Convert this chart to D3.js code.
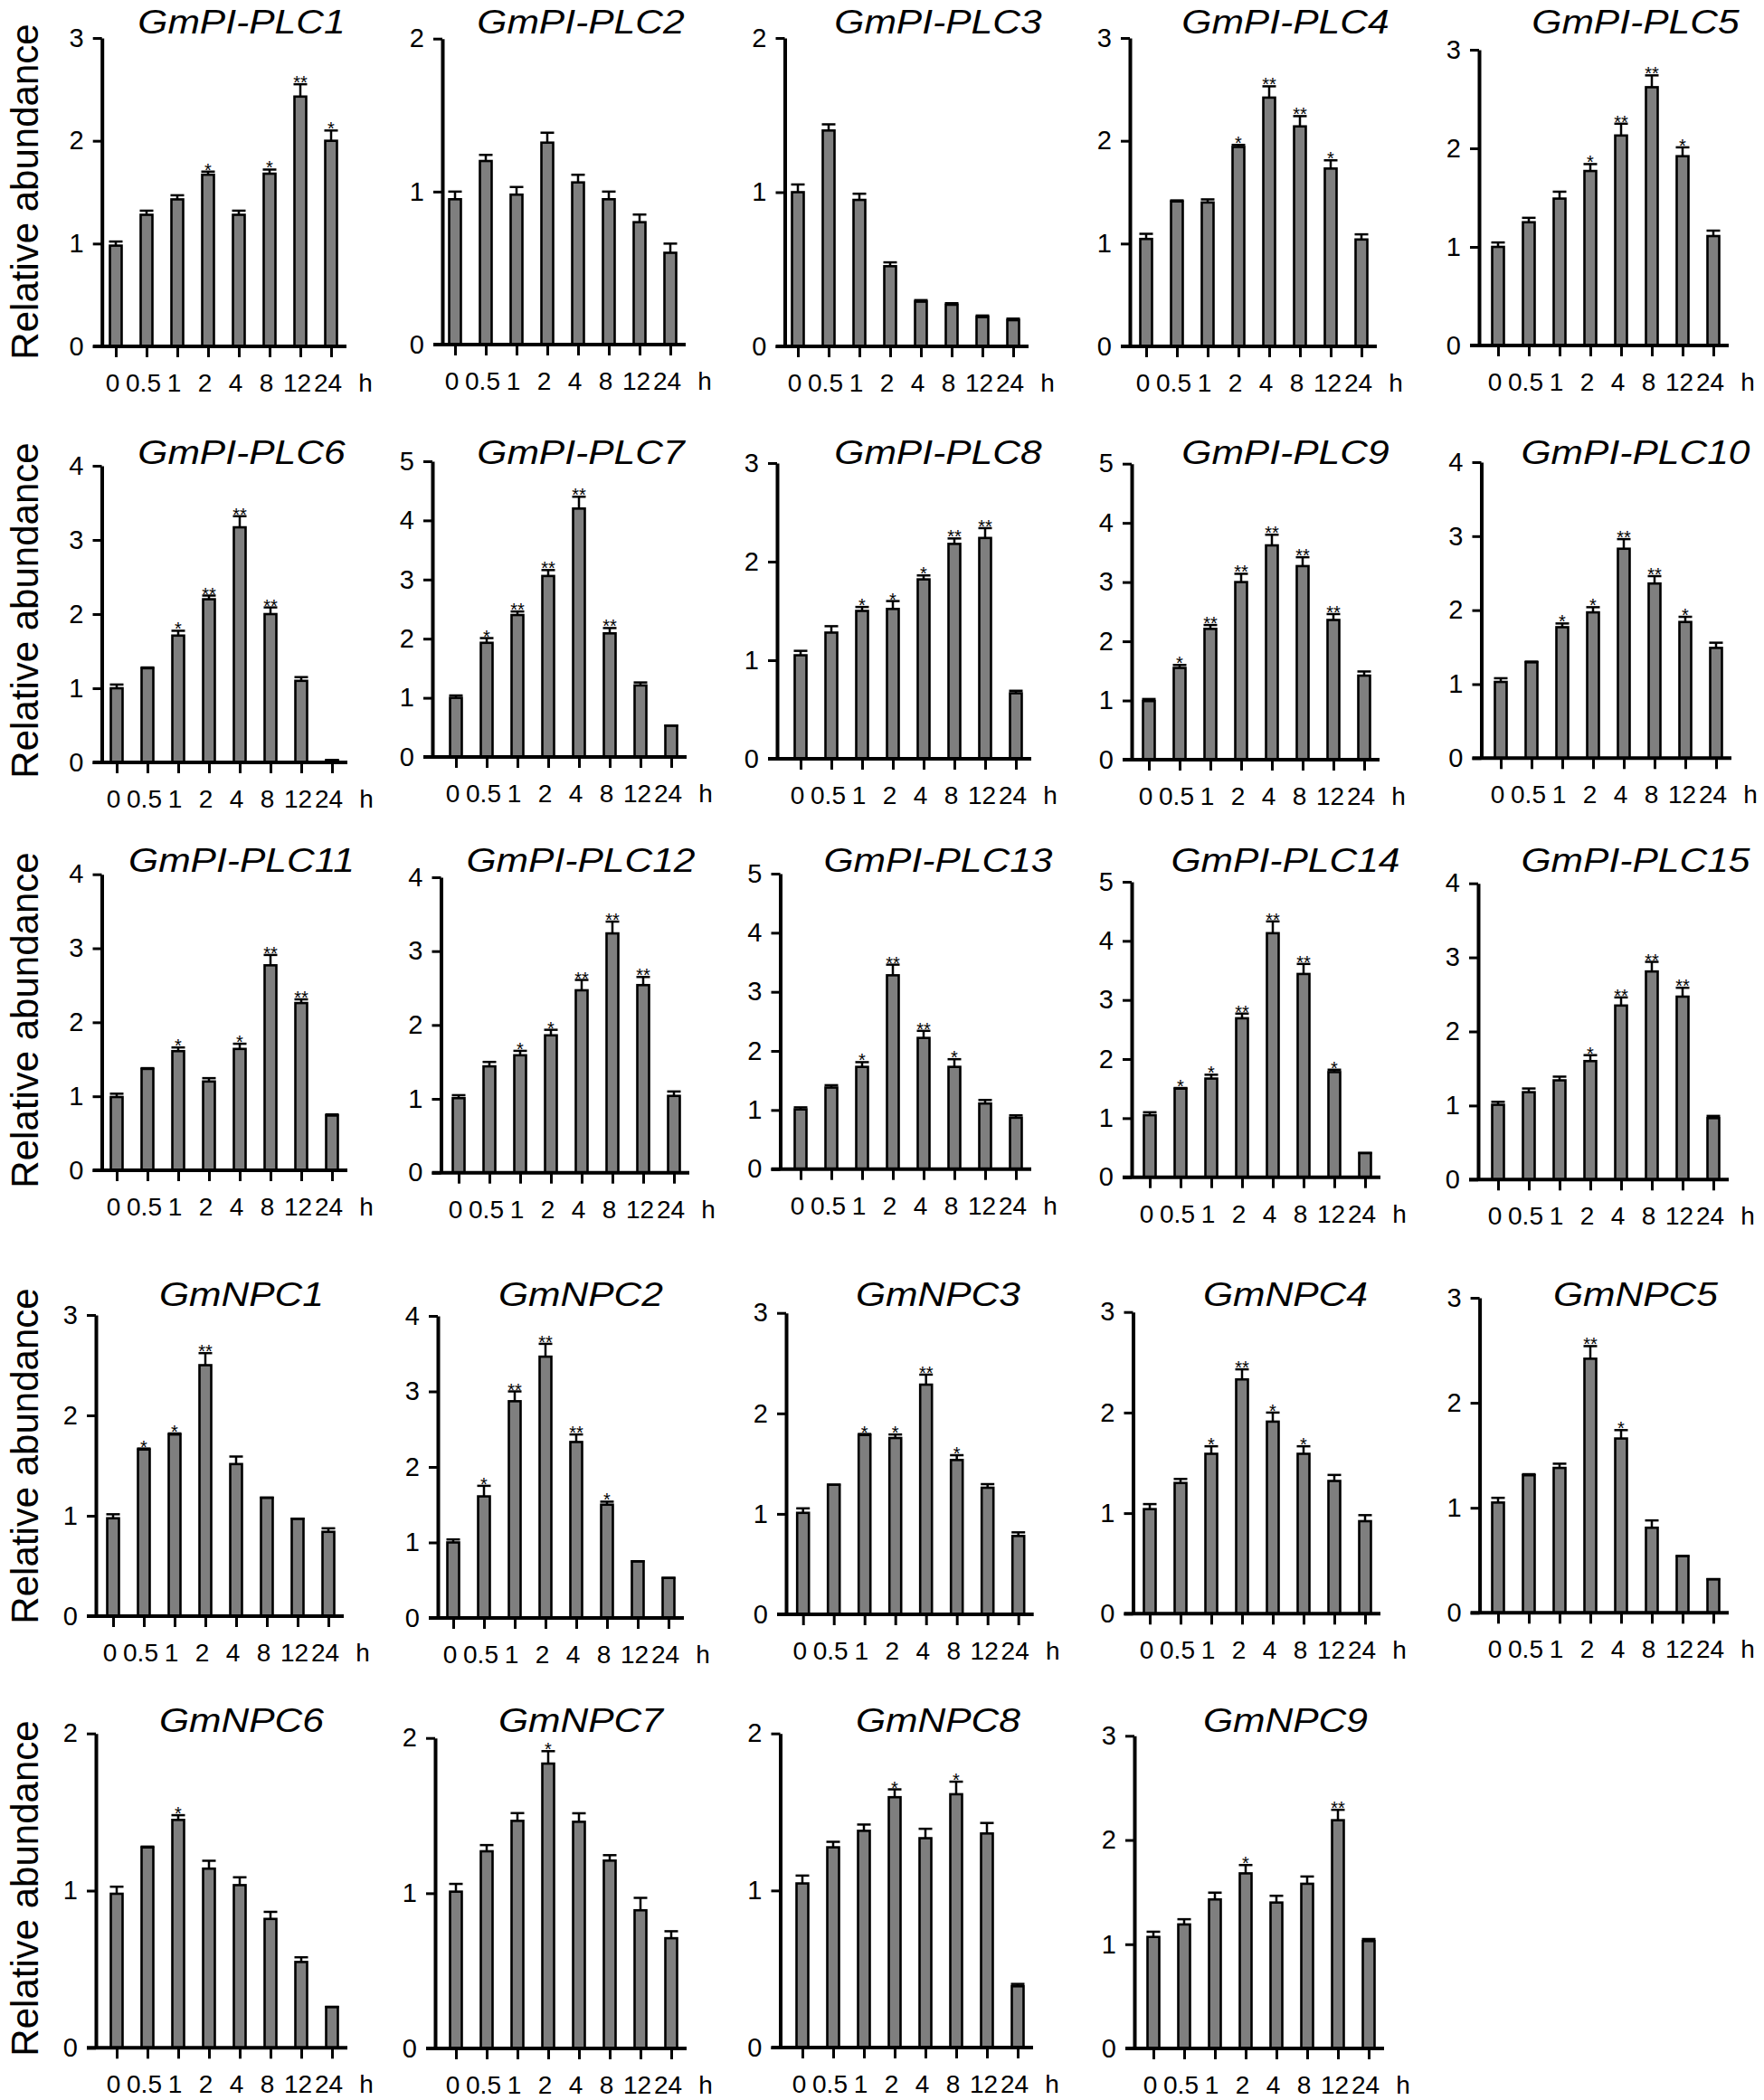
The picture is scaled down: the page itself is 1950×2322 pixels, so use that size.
<!DOCTYPE html>
<html lang="en">
	<head>
		<meta charset="utf-8">
		<title>relative abundance</title>
		<script type="text/javascript" src="https://cdn.jsdelivr.net/npm/d3@7"></script>
		<style type="text/css">
			body { margin: 0; background: #fff; }
			text { font-family: "Liberation Sans", Arial, sans-serif; fill: #000; }
		</style>
	</head>
	<body>
		<script type="text/javascript">

			//Data
			var genes = ["GmPI-PLC1","GmPI-PLC2","GmPI-PLC3","GmPI-PLC4","GmPI-PLC5",
			             "GmPI-PLC6","GmPI-PLC7","GmPI-PLC8","GmPI-PLC9","GmPI-PLC10",
			             "GmPI-PLC11","GmPI-PLC12","GmPI-PLC13","GmPI-PLC14","GmPI-PLC15",
			             "GmNPC1","GmNPC2","GmNPC3","GmNPC4","GmNPC5",
			             "GmNPC6","GmNPC7","GmNPC8","GmNPC9"];

			var times = ["0","0.5","1","2","4","8","12","24"];

			var yMax = [3,2,2,3,3, 4,5,3,5,4, 4,4,5,5,4, 3,4,3,3,3, 2,2,2,3];

			var means = [
				[0.98,1.28,1.43,1.67,1.28,1.68,2.43,2.00],
				[0.95,1.20,0.98,1.32,1.06,0.95,0.80,0.60],
				[1.00,1.40,0.95,0.52,0.29,0.27,0.19,0.17],
				[1.045,1.41,1.40,1.94,2.42,2.14,1.73,1.04],
				[1.00,1.25,1.49,1.77,2.13,2.62,1.92,1.11],
				[1.00,1.27,1.71,2.20,3.17,2.00,1.10,0.03],
				[1.00,1.93,2.40,3.06,4.20,2.09,1.21,0.53],
				[1.05,1.28,1.50,1.52,1.82,2.18,2.24,0.665],
				[0.99,1.55,2.21,3.00,3.62,3.27,2.36,1.42],
				[1.03,1.295,1.77,1.97,2.83,2.36,1.84,1.49],
				[0.99,1.37,1.61,1.20,1.64,2.77,2.26,0.74],
				[1.01,1.44,1.59,1.86,2.47,3.24,2.54,1.04],
				[1.01,1.38,1.73,3.28,2.22,1.73,1.11,0.87],
				[1.05,1.50,1.67,2.69,4.13,3.44,1.78,0.41],
				[1.01,1.18,1.34,1.60,2.35,2.81,2.47,0.83],
				[0.975,1.66,1.81,2.50,1.515,1.18,0.97,0.84],
				[1.00,1.61,2.87,3.46,2.33,1.50,0.75,0.53],
				[1.01,1.29,1.785,1.755,2.286,1.536,1.26,0.78],
				[1.04,1.30,1.59,2.33,1.91,1.59,1.32,0.92],
				[1.05,1.31,1.38,2.42,1.66,0.81,0.54,0.32],
				[0.98,1.275,1.45,1.14,1.035,0.82,0.546,0.26],
				[1.01,1.27,1.466,1.835,1.46,1.21,0.89,0.71],
				[1.045,1.275,1.38,1.594,1.333,1.613,1.363,0.39],
				[1.07,1.19,1.43,1.68,1.40,1.58,2.19,1.03]
			];

			var errors = [
				[0.04,0.04,0.04,0.03,0.04,0.04,0.12,0.10],
				[0.05,0.04,0.05,0.065,0.05,0.05,0.05,0.06],
				[0.05,0.04,0.04,0.025,0.01,0.01,0.01,0.01],
				[0.05,0.01,0.03,0.02,0.11,0.10,0.08,0.05],
				[0.045,0.045,0.07,0.07,0.12,0.12,0.09,0.055],
				[0.05,0.01,0.065,0.05,0.15,0.09,0.05,0],
				[0.04,0.08,0.06,0.10,0.20,0.09,0.05,0],
				[0.045,0.065,0.04,0.08,0.04,0.055,0.10,0.025],
				[0.035,0.05,0.065,0.14,0.18,0.15,0.10,0.07],
				[0.05,0.01,0.05,0.07,0.13,0.10,0.07,0.07],
				[0.045,0.01,0.05,0.045,0.07,0.14,0.05,0.015],
				[0.04,0.06,0.06,0.075,0.14,0.16,0.11,0.06],
				[0.035,0.04,0.08,0.18,0.12,0.13,0.06,0.04],
				[0.05,0.01,0.065,0.08,0.20,0.17,0.04,0],
				[0.04,0.05,0.05,0.08,0.11,0.13,0.12,0.03],
				[0.04,0.01,0.01,0.12,0.075,0,0,0.035],
				[0.04,0.14,0.13,0.17,0.10,0.04,0,0],
				[0.045,0,0.01,0.035,0.10,0.048,0.036,0.036],
				[0.05,0.04,0.075,0.10,0.09,0.075,0.06,0.06],
				[0.045,0.01,0.04,0.12,0.08,0.07,0,0],
				[0.045,0.005,0.03,0.05,0.05,0.045,0.03,0],
				[0.05,0.04,0.05,0.08,0.055,0.035,0.08,0.045],
				[0.05,0.035,0.04,0.05,0.06,0.08,0.067,0.015],
				[0.05,0.05,0.065,0.08,0.065,0.07,0.10,0.02]
			];

			var signif = [
				["","","","*","","*","**","*"],
				["","","","","","","",""],
				["","","","","","","",""],
				["","","","*","**","**","*",""],
				["","","","*","**","**","*",""],
				["","","*","**","**","**","",""],
				["","*","**","**","**","**","",""],
				["","","*","*","*","**","**",""],
				["","*","**","**","**","**","**",""],
				["","","*","*","**","**","*",""],
				["","","*","","*","**","**",""],
				["","","*","*","**","**","**",""],
				["","","*","**","**","*","",""],
				["","*","*","**","**","**","*",""],
				["","","","*","**","**","**",""],
				["","*","*","**","","","",""],
				["","*","**","**","**","*","",""],
				["","","*","*","**","*","",""],
				["","","*","**","*","*","",""],
				["","","","**","*","","",""],
				["","","*","","","","",""],
				["","","","*","","","",""],
				["","","","*","","*","",""],
				["","","","*","","","**",""]
			];

			//Panel frames: [y-axis x, top tick y, baseline y, x-axis right end]
			var frames = [
				[112.7,42,383,383],[489,42.7,381,758],[867.5,42,383,1137],[1249,42,383,1522],[1635,55,382,1911],
				[112.5,515,843,384],[478,510,837,759],[859,512,839,1140],[1251,512.7,840,1525],[1637.5,511,838.3,1914],
				[112.5,966.7,1294,384],[487.5,970,1296.7,762],[862.5,966,1292.7,1140],[1251,975,1301.7,1526],[1634,976.7,1304.3,1911],
				[106,1454,1787,380],[484,1455,1789,756],[869,1451.7,1785,1142.7],[1252.5,1450.7,1784.3,1526],[1635.6,1435,1783.3,1911],
				[106,1916.7,2264.3,384],[481,1921.7,2265,759],[862.5,1916.7,2264,1142],[1254,1919.3,2265,1530]
			];
			var titleX = [267, 642, 1037, 1421, 1808];
			var titleY = [37, 513, 964, 1444, 1915];
			var labelY = [212, 675, 1128, 1610, 2088];

			var w = 1950;
			var h = 2322;
			var step = 34;      //distance between bars
			var barW = 13;

			var svg = d3.select("body")
						.append("svg")
						.attr("width", w)
						.attr("height", h);

			svg.append("rect").attr("width", w).attr("height", h).attr("fill", "#fff");

			//y label once per row
			labelY.forEach(function(cy) {
				svg.append("text")
				   .attr("transform", "translate(27," + cy + ") rotate(-90)")
				   .attr("text-anchor", "middle")
				   .attr("dy", "0.35em")
				   .style("font-size", "42px")
				   .text("Relative abundance");
			});

			genes.forEach(function(gene, i) {
				var f = frames[i];
				var x0 = f[0], yTop = f[1], yBase = f[2], x1 = f[3];
				var row = Math.floor(i / 5), col = i % 5;

				var data = times.map(function(t, j) {
					return {t: t, v: means[i][j], e: errors[i][j], s: signif[i][j]};
				});

				var xScale = d3.scalePoint()
							   .domain(times)
							   .range([x1 - 17 - 7 * step, x1 - 17]);

				var yScale = d3.scaleLinear()
							   .domain([0, yMax[i]])
							   .range([yBase, yTop]);

				var g = svg.append("g");

				//bars
				g.selectAll("rect.bar")
				 .data(data)
				 .enter()
				 .append("rect")
				 .attr("class", "bar")
				 .attr("x", function(d) { return xScale(d.t) - barW / 2; })
				 .attr("y", function(d) { return yScale(d.v); })
				 .attr("width", barW)
				 .attr("height", function(d) { return yBase - yScale(d.v); })
				 .attr("fill", "#7f7f7f")
				 .attr("stroke", "#000")
				 .attr("stroke-width", 2.6);

				//error bars, upper half only
				g.selectAll("line.err")
				 .data(data)
				 .enter()
				 .append("line")
				 .attr("class", "err")
				 .attr("x1", function(d) { return xScale(d.t); })
				 .attr("x2", function(d) { return xScale(d.t); })
				 .attr("y1", function(d) { return yScale(d.v); })
				 .attr("y2", function(d) { return yScale(d.v + d.e); })
				 .attr("stroke", "#000")
				 .attr("stroke-width", 2.5);

				g.selectAll("line.cap")
				 .data(data)
				 .enter()
				 .append("line")
				 .attr("class", "cap")
				 .attr("x1", function(d) { return xScale(d.t) - 7.5; })
				 .attr("x2", function(d) { return xScale(d.t) + 7.5; })
				 .attr("y1", function(d) { return yScale(d.v + d.e); })
				 .attr("y2", function(d) { return yScale(d.v + d.e); })
				 .attr("stroke", "#000")
				 .attr("stroke-width", 2.5);

				//significance marks
				g.selectAll("text.sig")
				 .data(data.filter(function(d) { return d.s !== ""; }))
				 .enter()
				 .append("text")
				 .attr("class", "sig")
				 .attr("x", function(d) { return xScale(d.t); })
				 .attr("y", function(d) { return yScale(d.v + d.e) + 5; })
				 .attr("text-anchor", "middle")
				 .style("font-size", "20px")
				 .text(function(d) { return d.s; });

				//Y axis
				var yAxis = d3.axisLeft(yScale)
							  .tickValues(d3.range(0, yMax[i] + 1))
							  .tickFormat(d3.format("d"))
							  .tickSize(10)
							  .tickSizeOuter(0)
							  .tickPadding(10);

				var ya = g.append("g")
						  .attr("transform", "translate(" + x0 + ",0)")
						  .call(yAxis);
				ya.select(".domain").attr("stroke-width", 4);
				ya.selectAll(".tick line").attr("stroke-width", 3);
				ya.selectAll(".tick text").style("font-size", "29px")
				  .style("font-family", "'Liberation Sans', Arial, sans-serif");

				//X axis
				var xAxis = d3.axisBottom(xScale)
							  .tickSize(12)
							  .tickSizeOuter(0);

				var xa = g.append("g")
						  .attr("transform", "translate(0," + yBase + ")")
						  .call(xAxis);
				xa.select(".domain").remove();
				xa.selectAll(".tick line").attr("stroke-width", 3);
				xa.selectAll(".tick text")
				  .attr("y", 50)
				  .attr("dy", null)
				  .attr("dx", -4)
				  .style("font-size", "28px")
				  .style("font-family", "'Liberation Sans', Arial, sans-serif");

				xa.append("line")
				  .attr("x1", x0 - 10)
				  .attr("x2", x1)
				  .attr("stroke", "#000")
				  .attr("stroke-width", 4);

				xa.append("text")
				  .attr("x", x1 + 21)
				  .attr("y", 50)
				  .attr("text-anchor", "middle")
				  .attr("fill", "#000")
				  .style("font-size", "28px")
				  .text("h");

				//title
				var tt = g.append("text")
						  .attr("x", titleX[col])
						  .attr("y", titleY[row])
						  .attr("text-anchor", "middle")
						  .style("font-size", "37px")
						  .style("font-style", "italic")
						  .text(gene);
				var natural = tt.node().getComputedTextLength();
				tt.attr("textLength", natural * 1.15)
				  .attr("lengthAdjust", "spacingAndGlyphs");
			});

		</script>
	</body>
</html>
